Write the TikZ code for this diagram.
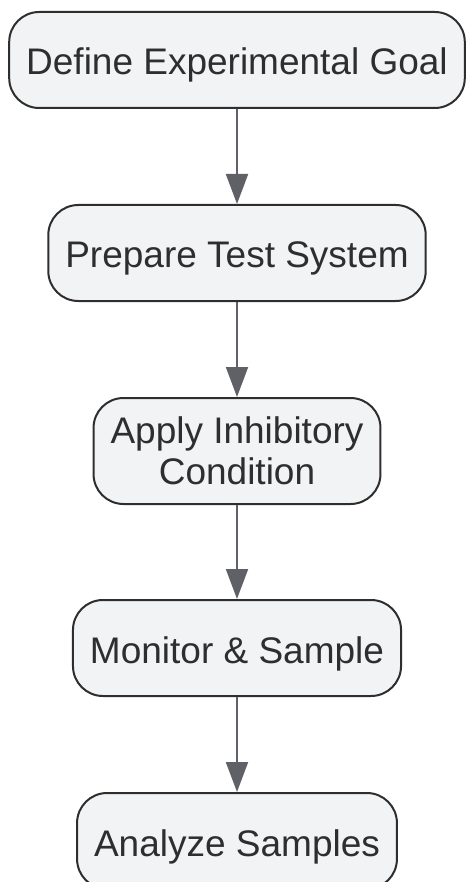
\documentclass[tikz,border=0pt]{standalone}
\usepackage{fontspec}
\setmainfont{Liberation Sans}
\usetikzlibrary{positioning,arrows.meta}
\definecolor{boxfill}{HTML}{F2F3F5}
\definecolor{boxline}{HTML}{2E2E2E}
\definecolor{arrowgray}{HTML}{5F6166}
\tikzset{
  stepnode/.style = {draw=boxline, fill=boxfill, line width=2pt, rounded corners=30pt,
    align=center, text=boxline, font=\fontsize{37}{41}\selectfont,
    text height=30pt, text depth=0pt,
    inner xsep=17pt, inner ysep=12pt, minimum height=96pt},
  flowarrow/.style = {draw=arrowgray, line width=2pt, -{Triangle[length=30pt,width=22pt,fill=arrowgray]}}
}

\begin{document}
\begin{tikzpicture}
\useasboundingbox (0,0) rectangle (466pt,-882pt);
\node [stepnode] (goal) at (237pt,-60pt) {Define Experimental Goal};
\node [stepnode, below=95pt of goal] (prep) {Prepare Test System};
\node [stepnode, below=95pt of prep, text height={}, text depth={}, minimum height=106pt] (apply) {Apply Inhibitory\\Condition};
\node [stepnode, below=94pt of apply] (monitor) {Monitor \& Sample};
\node [stepnode, below=95pt of monitor] (analyze) {Analyze Samples};
\draw [flowarrow] (goal) -- (prep);
\draw [flowarrow] (prep) -- (apply);
\draw [flowarrow] (apply) -- (monitor);
\draw [flowarrow] (monitor) -- (analyze);
\end{tikzpicture}
\end{document}
